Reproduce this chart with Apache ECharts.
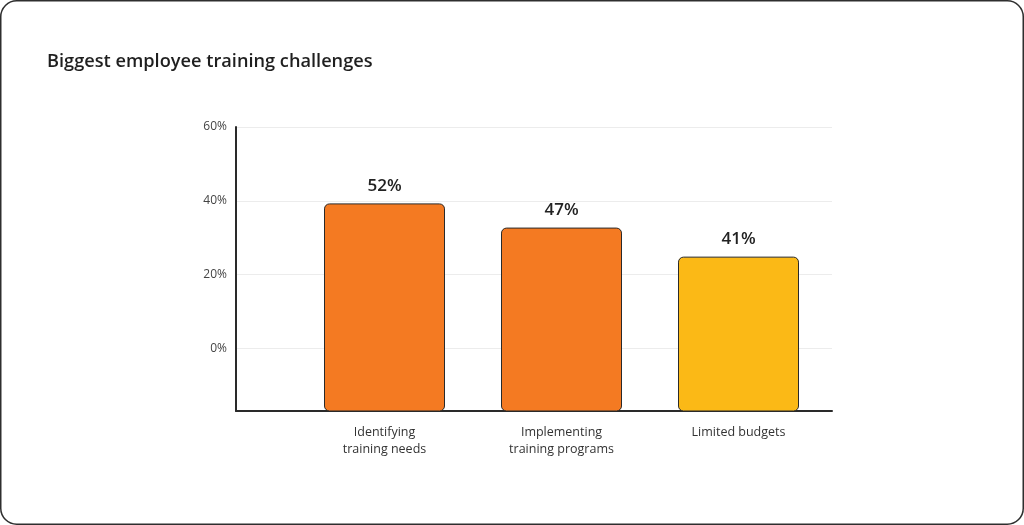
<!DOCTYPE html>
<html>
<head>
<meta charset="utf-8">
<script src="https://cdn.jsdelivr.net/npm/echarts@6/dist/echarts.min.js"></script>
<style>
html,body{margin:0;padding:0;background:#fff;}
#chart{width:1024px;height:525px;}
</style>
</head>
<body>
<div id="chart"></div>
<script>
const title = 'Biggest employee training challenges';
const categories = ['Identifying\ntraining needs', 'Implementing\ntraining programs', 'Limited budgets'];
const values = [52, 47, 41];
const barColors = ['#F47A22', '#F47A22', '#FBB916'];
const tickValues = [0, 20, 40, 60];
const tickLabels = ['0%', '20%', '40%', '60%'];

const FONT = '"Open Sans", "Noto Sans", sans-serif';
const chart = echarts.init(document.getElementById('chart'), null, {renderer: 'canvas'});

chart.setOption({
  animation: false,
  backgroundColor: '#fff',
  title: {
    text: title,
    left: 42, top: 48,
    textStyle: {fontFamily: FONT, fontSize: 18.2, fontWeight: 600, color: '#1f1f1f'}
  },
  graphic: [{
    type: 'rect', silent: true, z: 100,
    shape: {x: 0.75, y: 0.75, width: 1022.5, height: 523.5, r: 16},
    style: {fill: 'none', stroke: '#2e2e2e', lineWidth: 1.5}
  }],
  grid: [
    {left: 236, right: 192, top: 127, bottom: 114},
    {left: 296, right: 197, top: 125, bottom: 114}
  ],
  xAxis: [
    {
      gridIndex: 0, type: 'value', min: 0, max: 1,
      axisLine: {show: true, onZero: false, lineStyle: {color: '#2a2a2a', width: 2}},
      axisTick: {show: false}, axisLabel: {show: false}, splitLine: {show: false}
    },
    {
      gridIndex: 1, type: 'category', data: categories,
      axisLine: {show: false}, axisTick: {show: false},
      axisLabel: {
        margin: 13, fontFamily: FONT, fontSize: 12.5, lineHeight: 17, color: '#333'
      }
    }
  ],
  yAxis: [
    {
      gridIndex: 0, type: 'value', min: -17, max: 60,
      axisLine: {show: true, lineStyle: {color: '#2a2a2a', width: 2}},
      axisTick: {show: false, customValues: tickValues},
      axisLabel: {
        customValues: tickValues, margin: 9,
        fontFamily: FONT, fontSize: 12, color: '#444',
        formatter: function (v) { return tickLabels[tickValues.indexOf(v)]; }
      },
      splitLine: {show: true, lineStyle: {color: '#ececec', width: 1}}
    },
    {
      gridIndex: 1, type: 'value', min: 9.1, max: 68.2, show: false
    }
  ],
  series: [{
    type: 'bar',
    xAxisIndex: 1, yAxisIndex: 1,
    barWidth: 121,
    data: values.map(function (v, i) {
      return {value: v, itemStyle: {color: barColors[i]}};
    }),
    itemStyle: {borderColor: '#2a2a2a', borderWidth: 1, borderRadius: 5},
    label: {
      show: true, position: 'top', distance: 9,
      fontFamily: FONT, fontSize: 17, fontWeight: 600, color: '#222',
      formatter: function (p) { return p.value + '%'; }
    }
  }]
});
</script>
</body>
</html>
